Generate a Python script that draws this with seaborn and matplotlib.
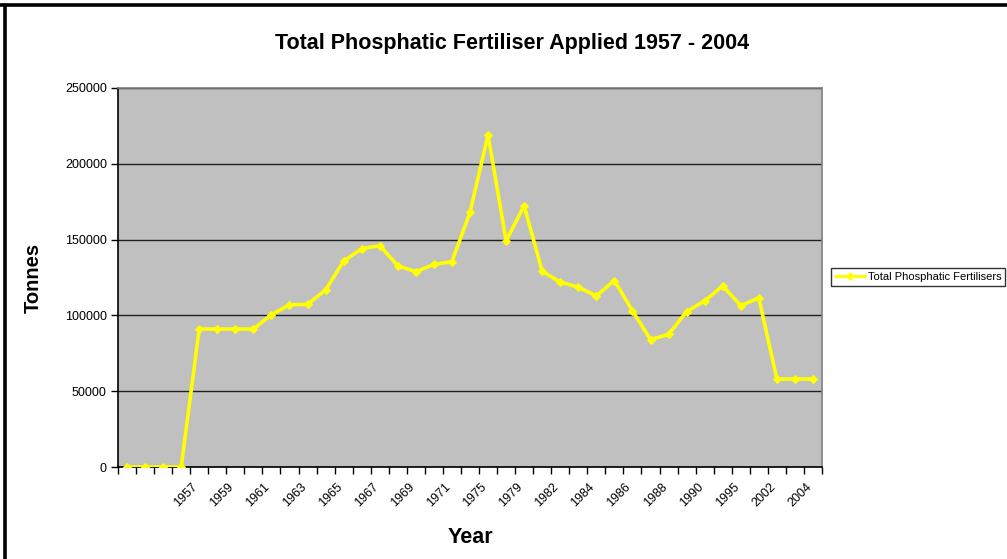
import numpy as np
import pandas as pd
import matplotlib
matplotlib.use("Agg")
import matplotlib.pyplot as plt
from matplotlib.lines import Line2D
import seaborn as sns

# ---- data ----
years = ["", "", "", "",
         "1957", "1958", "1959", "1960", "1961", "1962", "1963", "1964", "1965",
         "1966", "1967", "1968", "1969", "1970", "1971", "1973", "1975", "1977",
         "1979", "1980", "1982", "1983", "1984", "1985", "1986", "1987", "1988",
         "1989", "1990", "1993", "1995", "2000", "2002", "2003", "2004"]
tonnes = [0, 0, 0, 0,
          91000, 91000, 91000, 91000, 100500, 107000, 107300, 116800, 135800,
          144000, 146000, 132800, 128800, 133600, 135500, 168000, 219000, 149300,
          172300, 129000, 122000, 118600, 112900, 123000, 103000, 84000, 87500,
          102500, 109600, 119400, 106500, 111500, 58000, 58000, 58000]
y_ticks = [0, 50000, 100000, 150000, 200000, 250000]

title = "Total Phosphatic Fertiliser Applied 1957 - 2004"
series_name = "Total Phosphatic Fertilisers"

df = pd.DataFrame({"pos": np.arange(len(years)), "tonnes": tonnes})

sns.set_theme(style="white")
plt.rcParams["font.family"] = ["Liberation Sans", "DejaVu Sans"]
plt.rcParams["text.color"] = "black"
plt.rcParams["axes.labelcolor"] = "black"
plt.rcParams["xtick.color"] = "black"
plt.rcParams["ytick.color"] = "black"

fig = plt.figure(figsize=(10.07, 5.59), dpi=100)
ax = fig.add_axes([118 / 1007, 1 - 467 / 559, 704 / 1007, 379 / 559])
ax.set_facecolor("#C0C0C0")

sns.lineplot(data=df, x="pos", y="tonnes", ax=ax, color="#FFFF00",
             linewidth=2.6, marker="D", markersize=4.5,
             markeredgecolor="#FFFF00", legend=False, zorder=3)

ax.set_xlim(-0.5, len(years) - 0.5)
ax.set_ylim(y_ticks[0], y_ticks[-1])

# y axis
ax.set_yticks(y_ticks)
ax.set_yticklabels([str(v) for v in y_ticks], fontsize=9)
ax.yaxis.grid(True, color="#202020", linewidth=1.0)
ax.set_axisbelow(True)

# x axis: major ticks at category boundaries, labels at every other category
ax.set_xticks(np.arange(-0.5, len(years) + 0.5, 1.0))
ax.set_xticklabels([])
label_idx = np.arange(0, len(years), 2)
ax.set_xticks(label_idx - 0.42, minor=True)
ax.set_xticklabels([years[i] for i in label_idx], minor=True, rotation=45,
                   ha="right", va="top", rotation_mode="anchor", fontsize=9)
ax.tick_params(axis="x", which="major", direction="out", length=5, width=1,
               color="black", bottom=True)
ax.tick_params(axis="x", which="minor", length=0, pad=10, bottom=True)
ax.tick_params(axis="y", direction="out", length=5, width=1, color="black",
               left=True, pad=3)

for side in ["left", "bottom"]:
    ax.spines[side].set_color("black")
    ax.spines[side].set_linewidth(1.2)
for side in ["top", "right"]:
    ax.spines[side].set_color("#808080")
    ax.spines[side].set_linewidth(1.2)

ax.set_xlabel("Year", fontsize=15.5, fontweight="bold")
ax.set_ylabel("Tonnes", fontsize=14.5, fontweight="bold")
ax.xaxis.set_label_coords(0.5, -0.158)
ax.yaxis.set_label_coords(-0.1065, 0.5)

fig.text(512 / 1007, 1 - 43 / 559, title, ha="center", va="center",
         fontsize=15.5, fontweight="bold")

handle = Line2D([], [], color="#FFFF00", linewidth=2.2, marker="D",
                markersize=3.5)
leg = fig.legend([handle], [series_name], loc="center",
                 bbox_to_anchor=(918 / 1007, 1 - 277 / 559), fontsize=8,
                 frameon=True, fancybox=False, borderpad=0.35,
                 handlelength=2.7, handletextpad=0.3)
leg.get_frame().set_edgecolor("black")
leg.get_frame().set_linewidth(1.0)

# outer chart frame (top and left visible in the reference)
fig.add_artist(Line2D([0, 1], [1 - 4.5 / 559, 1 - 4.5 / 559],
                      transform=fig.transFigure, color="black", linewidth=2.6))
fig.add_artist(Line2D([5 / 1007, 5 / 1007], [0, 1 - 4.5 / 559],
                      transform=fig.transFigure, color="black", linewidth=2.6))

fig.savefig("out.png", dpi=100)
